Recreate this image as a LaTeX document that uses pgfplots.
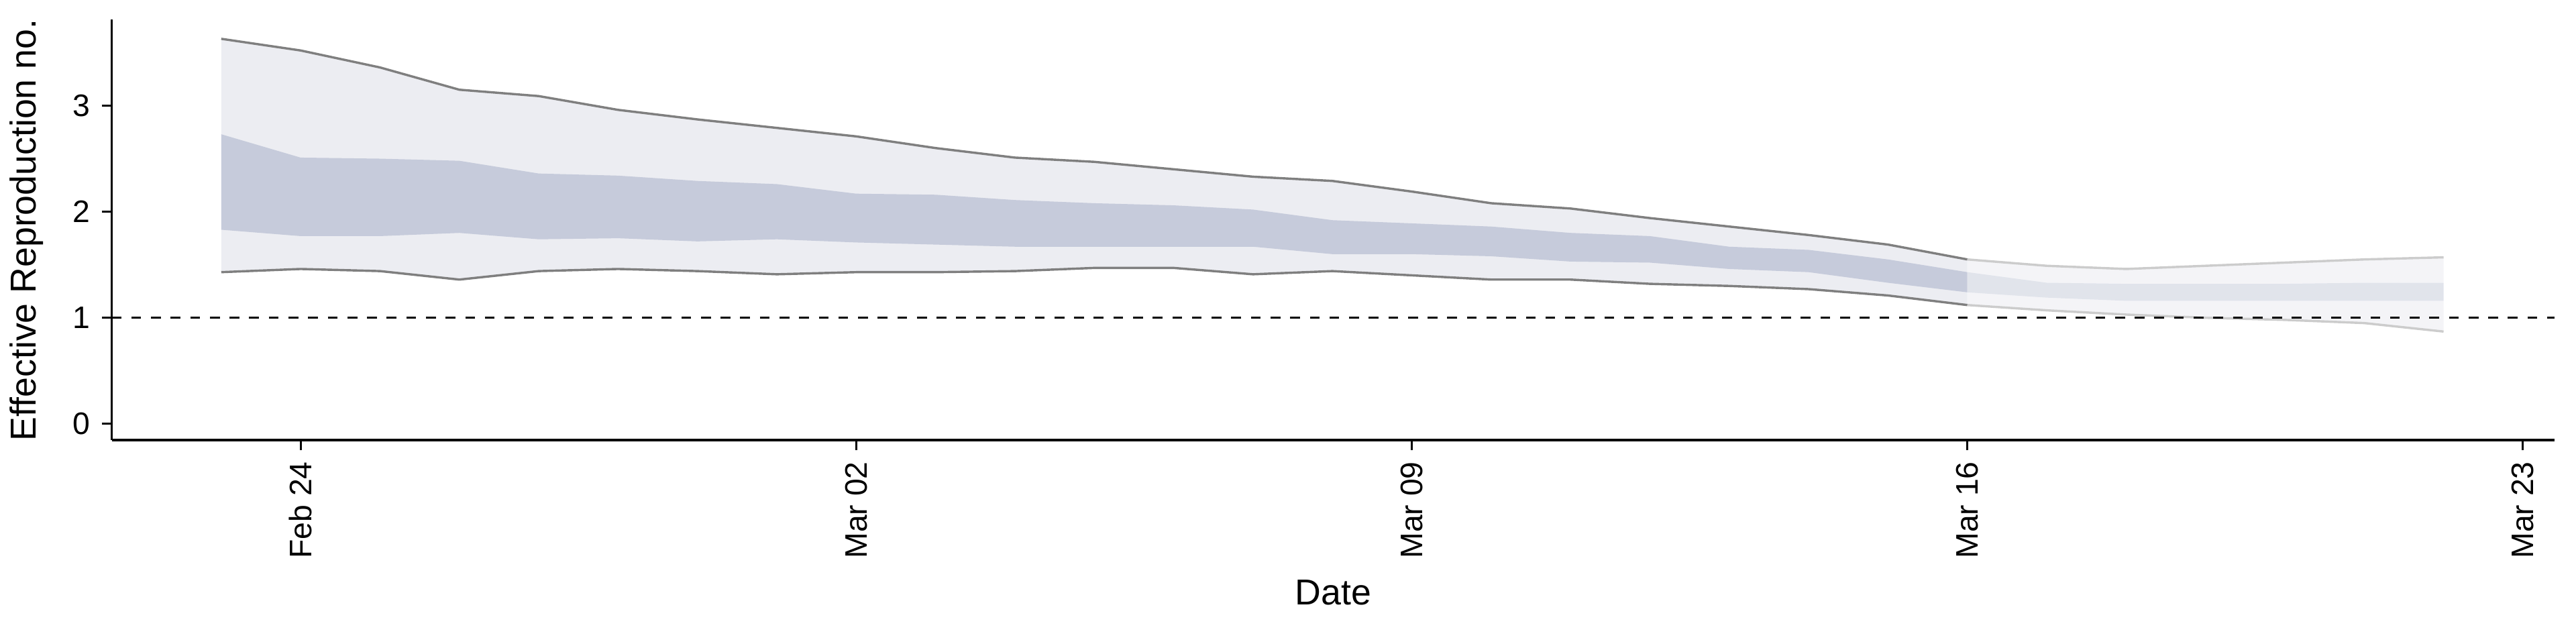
\documentclass[border=0pt]{standalone}
\usepackage{pgfplots}
\pgfplotsset{compat=1.18}
\usepgfplotslibrary{fillbetween}
\usepackage{fontspec}
\setmainfont{Liberation Sans}
\definecolor{outer}{HTML}{ECEDF2}
\definecolor{inner}{HTML}{C6CBDB}
\definecolor{ln}{HTML}{7F7F7F}
\pgfplotstableread{
d oup olo iup ilo
-1 3.63 1.43 2.73 1.83
0 3.52 1.46 2.51 1.77
1 3.36 1.44 2.50 1.77
2 3.15 1.36 2.48 1.80
3 3.09 1.44 2.36 1.74
4 2.96 1.46 2.34 1.75
5 2.87 1.44 2.29 1.72
6 2.79 1.41 2.26 1.74
7 2.71 1.43 2.17 1.71
8 2.60 1.43 2.16 1.69
9 2.51 1.44 2.11 1.67
10 2.47 1.47 2.08 1.67
11 2.40 1.47 2.06 1.67
12 2.33 1.41 2.02 1.67
13 2.29 1.44 1.92 1.60
14 2.19 1.40 1.89 1.60
15 2.08 1.36 1.86 1.58
16 2.03 1.36 1.80 1.53
17 1.94 1.32 1.77 1.52
18 1.86 1.30 1.67 1.46
19 1.78 1.27 1.64 1.43
20 1.69 1.21 1.55 1.33
21 1.55 1.12 1.43 1.24
}\main
\pgfplotstableread{
d oup olo iup ilo
21 1.55 1.12 1.43 1.24
22 1.49 1.07 1.33 1.19
23 1.46 1.03 1.32 1.16
24 1.49 1.00 1.32 1.16
25 1.52 0.98 1.32 1.16
26 1.55 0.95 1.33 1.16
27 1.57 0.87 1.33 1.16
}\proj
\begin{document}
\begin{tikzpicture}
\begin{axis}[scale only axis, width=743.5bp, height=128bp,
 xmin=-2.38, xmax=28.4, ymin=-0.155, ymax=3.81,
 axis lines=left, axis line style={-, line width=0.8pt},
 xtick={0,7,14,21,28}, xticklabels={Feb 24,Mar 02,Mar 09,Mar 16,Mar 23},
 xticklabel style={rotate=90, anchor=east},
 ytick={0,1,2,3}, tick align=outside, tick style={black, line width=0.6pt},
 major tick length=3bp,
 /pgf/number format/assume math mode=true,
 tick label style={font=\fontsize{9.5}{11}\selectfont},
 xlabel={Date}, ylabel={Effective Reproduction no.},
 label style={font=\fontsize{11}{13}\selectfont},
 xlabel style={at={(axis description cs:0.5,0)}, anchor=base, yshift=-50bp},
 ylabel style={at={(axis description cs:0,0.5)}, anchor=base, yshift=23bp, rotate=0},
 clip=false]
\addplot[name path=oa, draw=none] table[x=d,y=oup]{\main};
\addplot[name path=ob, draw=none] table[x=d,y=olo]{\main};
\addplot[outer] fill between[of=oa and ob];
\addplot[name path=ia, draw=none] table[x=d,y=iup]{\main};
\addplot[name path=ib, draw=none] table[x=d,y=ilo]{\main};
\addplot[inner] fill between[of=ia and ib];
\addplot[name path=pa, draw=none] table[x=d,y=oup]{\proj};
\addplot[name path=pb, draw=none] table[x=d,y=olo]{\proj};
\addplot[outer, fill opacity=0.6] fill between[of=pa and pb];
\addplot[name path=qa, draw=none] table[x=d,y=iup]{\proj};
\addplot[name path=qb, draw=none] table[x=d,y=ilo]{\proj};
\addplot[inner, fill opacity=0.4] fill between[of=qa and qb];
\addplot[ln, line width=0.7pt] table[x=d,y=oup]{\main};
\addplot[ln, line width=0.7pt] table[x=d,y=olo]{\main};
\addplot[ln!40, line width=0.7pt] table[x=d,y=oup]{\proj};
\addplot[ln!40, line width=0.7pt] table[x=d,y=olo]{\proj};
\addplot[black, dashed, line width=0.7pt] coordinates {(-2.38,1) (28.4,1)};
\end{axis}
\pgfresetboundingbox
\useasboundingbox (-34bp,-62bp) rectangle (750bp,134bp);
\end{tikzpicture}
\end{document}
